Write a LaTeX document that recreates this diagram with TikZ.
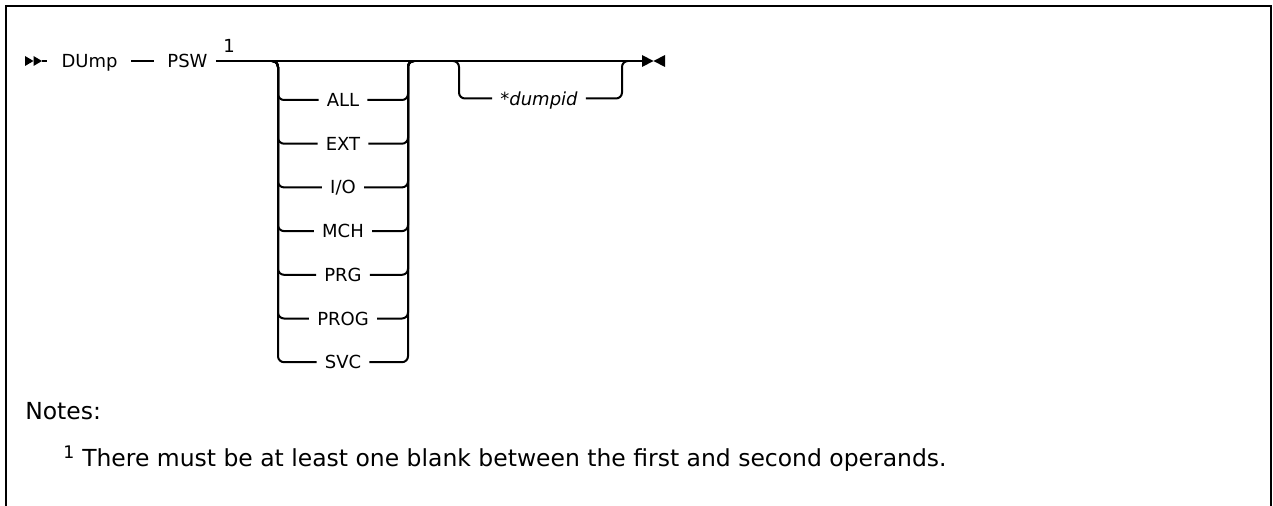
\documentclass[tikz,border=0pt]{standalone}
\usepackage{fontspec}
\setmainfont{DejaVu Sans}
\usetikzlibrary{calc}
\tikzset{rail/.style={line width=1.5pt, line join=round},
  kw/.style={font=\fontsize{13.5}{16}\selectfont, inner xsep=6pt, inner ysep=0pt,
    text height=9.8pt, text depth=0pt},
  var/.style={kw, font=\fontsize{13.5}{16}\selectfont\itshape},
  note/.style={font=\fontsize{17.6}{22}\selectfont, inner sep=0pt, anchor=base west}}

\begin{document}
\begin{tikzpicture}[x=0.75pt, y=-0.75pt]
\useasboundingbox (0,0) rectangle (1273,506);
% frame, open at the bottom
\draw[line width=1.8pt] (6,506) -- (6,6) -- (1271,6) -- (1271,506);
% main line at y = 61
\node[kw] (dmp) at (89.5,61) {DUmp};
\node[kw] (psw) at (187.5,61) {PSW};
\node[font=\fontsize{13.5}{16}\selectfont, inner sep=0pt] (fn) at (229,46) {1};
\coordinate (st) at (25,61);
\coordinate (stE) at (42,61);
\coordinate (fin) at (642,61);
% start mark: two triangles, 8.5 wide
\foreach \dx in {0,8.5}
  \fill (st) ++(\dx,-5) -- ++(8.5,5) -- ++(-8.5,5) -- cycle;
\draw[rail, shorten >=5pt] (stE) -- (dmp.west);
\draw[rail, shorten <=4pt, shorten >=4pt] (dmp) -- (psw);
\draw[rail] (psw.east) -- (fin);
% end mark: right and left triangles
\fill (fin) ++(0,-6) -- ++(11.5,6) -- ++(-11.5,6) -- cycle;
\fill (fin) ++(23,-6) -- ++(-11.5,6) -- ++(11.5,6) -- cycle;
% choice block, rails at x = 278 and 408, rows 43.7 apart
\coordinate (aL) at (272,61); \coordinate (railL) at (278,61);
\coordinate (railR) at (408,61); \coordinate (aR) at (414,61);
\foreach \lbl [count=\k from 0] in {ALL,EXT,I/O,MCH,PRG,PROG,SVC}{
  \pgfmathsetmacro\yy{100+43.7*\k}
  \node[kw] (opt\k) at (343,\yy) {\lbl};
  \draw[rail, rounded corners=4.5pt] (aL) -| (opt\k.west -| railL) -- (opt\k.west);
  \draw[rail, rounded corners=4.5pt] (opt\k.east) -| (railR) -- (aR);
}
% optional dump id, rails at x = 459 and 622
\coordinate (bL) at (453,61); \coordinate (railB) at (459,61);
\coordinate (railC) at (622,61); \coordinate (bR) at (628,61);
\node[var] (did) at (539,98.5) {{\upshape*}dumpid};
\draw[rail, rounded corners=4.5pt] (bL) -| (did.west -| railB) -- (did.west);
\draw[rail, rounded corners=4.5pt] (did.east) -| (railC) -- (bR);
% notes
\node[note] (nts) at (25,419) {Notes:};
\node[note, font=\fontsize{13}{15}\selectfont] (nsup) at (63,458) {1};
\node[note] (ntxt) at (82,466) {There must be at least one blank between the first and second operands.};
\end{tikzpicture}
\end{document}
